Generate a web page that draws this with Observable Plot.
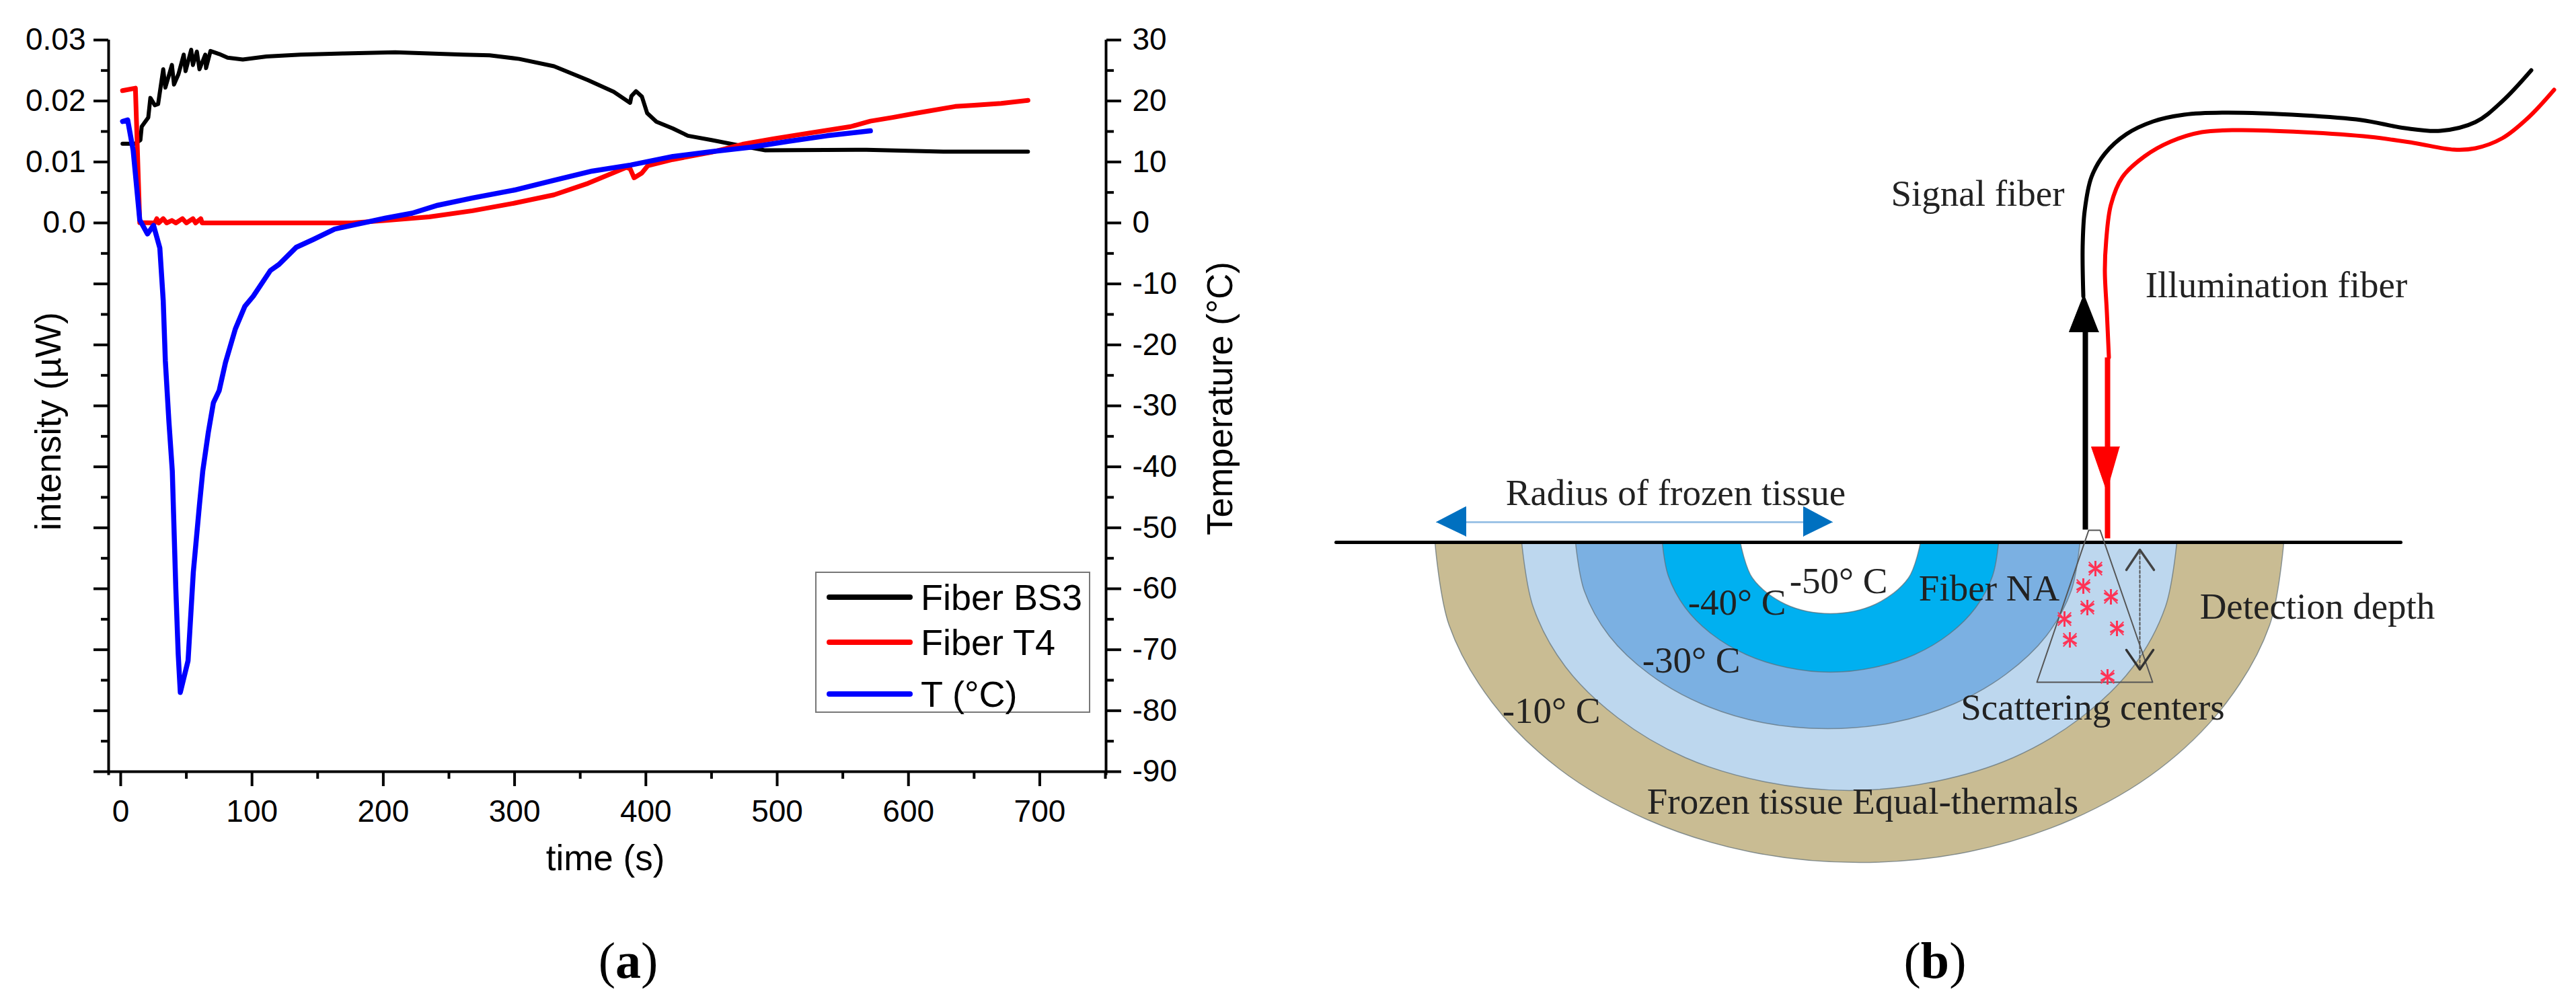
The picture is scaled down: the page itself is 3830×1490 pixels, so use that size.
<!DOCTYPE html>
<html>
<head>
<meta charset="utf-8">
<script src="https://cdn.jsdelivr.net/npm/d3@7"></script>
<script src="https://cdn.jsdelivr.net/npm/@observablehq/plot@0.6"></script>
<style>
    body { margin: 0; background: #fff; width: 3830px; height: 1490px; overflow: hidden; }
    #row { display: flex; width: 3830px; }
    .panel { position: relative; }
    .panel svg { display: block; max-width: none; background: #fff; }
    .caption { height: 116px; text-align: center; font: 76px/116px "Liberation Serif"; color: #000; }
    .caption b { font-weight: bold; }
    #legend { position: absolute; left: 1212px; top: 850px; width: 405px; height: 206px; border: 2px solid #777; font: 54px "Liberation Sans"; color: #000; }
    #legend .swatch { position: absolute; left: 15px; width: 128px; height: 8px; border-radius: 4px; }
    #legend .name { position: absolute; left: 155px; line-height: 60px; white-space: nowrap; }
</style>
</head>
<body>
<div id="row">
    <div class="panel" id="panel-a"><div class="chart"></div><div class="caption" style="padding-right:32px">(<b>a</b>)</div></div>
    <div class="panel" id="panel-b"><div class="chart"></div><div class="caption" style="padding-left:24px">(<b>b</b>)</div></div>
</div>
<script>
// Panel (a): time in seconds, value pairs
const fiberBS3 = [[1.4,13],[11,13],[15,13.6],[16,15.8],[21,17.3],[22.6,20.5],[26,19.3],[28.5,19.5],[32.4,25.2],[34,22.2],[39,25.9],[40.6,22.7],[44,24.4],[48,27.6],[49.4,24.9],[53.7,28.4],[55,25.9],[58,28.1],[60,25.2],[64.4,27.6],[65,25.4],[68.4,28.2],[75,27.7],[81.4,27.1],[93,26.8],[111,27.3],[137,27.6],[170,27.8],[209,28],[235,27.8],[261,27.6],[281,27.5],[303.5,26.9],[330,25.7],[356,23.4],[375.5,21.5],[388,19.7],[389,20.8],[392.5,21.6],[397,20.7],[401,18],[408,16.6],[420.5,15.5],[432,14.3],[450,13.6],[473.6,12.6],[491,11.9],[568,12],[626.5,11.7],[691,11.7]];
const fiberT4 = [[1.4,21.7],[11.2,22.1],[12,16.8],[14.5,0.05],[26,0],[27.5,0.7],[29,0],[32.4,0.7],[35,0],[39,0.4],[42,0],[47,0.7],[50,0],[55,0.7],[57,0],[61,0.7],[62,0],[100,0],[176,0],[202,0.4],[235,1],[268,2],[300,3.25],[330,4.6],[356,6.5],[385,9.1],[388,8.9],[391,7.4],[397,8.2],[401.5,9.4],[420.5,10.4],[450,11.6],[473.6,12.9],[497,13.8],[523.4,14.7],[556,15.8],[571,16.7],[588,17.3],[606,18],[635.5,19.1],[650,19.3],[670.6,19.6],[691,20.1]];
const temperature = [[1.4,16.65],[5.3,16.9],[9.5,11.9],[14.5,0.5],[20.4,-1.8],[25,-0.4],[29.8,-4.1],[32.4,-12.8],[34,-22.6],[36.7,-32.5],[39.3,-40.7],[40.6,-50.1],[42,-60.1],[43.8,-70.7],[45.4,-77],[51.3,-71.8],[55.3,-57.3],[60,-46.2],[62.5,-40.7],[66.7,-34.4],[70.6,-29.5],[75,-27.5],[79.8,-22.9],[87.3,-17.4],[94.5,-13.7],[101,-12],[114,-7.8],[120.6,-6.8],[133.7,-4],[146.8,-2.7],[163,-1],[176,-0.4],[202,0.8],[222,1.6],[241.5,2.9],[268,4.1],[300,5.4],[330,7],[359,8.5],[388.5,9.5],[420.5,10.9],[450,11.7],[479.5,12.4],[509,13.4],[538,14.3],[571,15.1]];

const legendLabels = ["Fiber BS3", "Fiber T4", "T (°C)"];
const legendColors = ["#000000", "#ff0000", "#0000ff"];
const legendTops = [36, 103, 180];

const timeTicks = [0, 100, 200, 300, 400, 500, 600, 700];
const timeMinorTicks = [50, 150, 250, 350, 450, 550, 650, 750];
const tempTicks = [30, 20, 10, 0, -10, -20, -30, -40, -50, -60, -70, -80, -90];
const tempMinorTicks = [25, 15, 5, -5, -15, -25, -35, -45, -55, -65, -75, -85];
const intensityTicks = [0.03, 0.02, 0.01, 0.0];
const intensityLabels = ["0.03", "0.02", "0.01", "0.0"];

// The left axis shares the temperature scale: 0.03 uW sits level with 30 C
const intensityToTemp = 1000;
const xDomain = [-9.2, 750.5];
const yDomain = [-90, 30];

// Panel (b): schematic outlines in picture pixels
const ringTan = [[2133,806],[2154,929],[2218,1044],[2318,1143],[2448,1218],[2601,1266],[2764,1282],[2927,1266],[3080,1218],[3210,1143],[3310,1044],[3374,929],[3395,806]];
const ringLight = [[2262,806],[2279,902],[2327,991],[2405,1067],[2505,1126],[2623,1162],[2749,1175],[2875,1162],[2993,1126],[3093,1067],[3171,991],[3219,902],[3236,806]];
const ringMid = [[2342,806],[2355,878],[2392,945],[2452,1002],[2529,1046],[2620,1074],[2717,1083],[2814,1074],[2905,1046],[2982,1002],[3042,945],[3079,878],[3092,806]];
const ringCyan = [[2471,806],[2480,856],[2505,903],[2544,942],[2596,973],[2656,992],[2721,999],[2786,992],[2846,973],[2898,942],[2937,903],[2962,856],[2971,806]];
const ringWhite = [[2587,806],[2605,859],[2654,898],[2721,912],[2788,898],[2837,859],[2855,806]];
const surfaceLine = [[1986,806],[3569,806]];

const radiusLine = [[2179,776],[2681,776]];
const radiusArrowLeft = [[2135,776],[2179,753],[2179,797]];
const radiusArrowRight = [[2724,776],[2681,753],[2681,797]];

const signalFiber = [[3763,104],[3720,150],[3680,181],[3628,194],[3575,190],[3510,178],[3424,171],[3306,167],[3247,170],[3201,180],[3161,199],[3129,228],[3109,263],[3099,313],[3096,366],[3097,440]];
const signalStem = [[3100,493],[3100,787]];
const signalHead = [[3098,437],[3076,493],[3120,493]];
const illumFiber = [[3797,133],[3759,174],[3720,205],[3680,220],[3648,222],[3588,212],[3523,203],[3424,196],[3326,193],[3273,196],[3227,210],[3188,232],[3155,263],[3138,304],[3131,357],[3129,402],[3132,464],[3135,531]];
const illumStem = [[3133,531],[3133,800]];
const illumHead = [[3132,730],[3109,664],[3151,664]];

const fiberNA = [[3105,788],[3122,788],[3200,1014],[3028,1014],[3105,788]];
const depthLine = [[3181,820],[3181,992]];
const depthHeadTop = [[3161,847],[3181,817],[3202,847]];
const depthHeadBottom = [[3161,966],[3181,995],[3201,966]];
const scatterCenters = [[3115,845],[3097,871],[3138,887],[3103,903],[3069,920],[3147,934],[3077,951],[3133,1006]];

const diagramLabels = ["Radius of frozen tissue", "-50° C", "-40° C", "-30° C", "-10° C", "Frozen tissue Equal-thermals", "Fiber NA", "Detection depth", "Scattering centers", "Signal fiber", "Illumination fiber"];
const diagramLabelX = [2491, 2733, 2582, 2514, 2306, 2769, 2957, 3445, 3111, 2940, 3384];
const diagramLabelY = [733, 864, 896, 982, 1057, 1192, 875, 902, 1052, 288, 424];

const rows = pts => pts.map(p => ({x: p[0], y: p[1]}));

function drawTimeChart() {
    const axisStyle = {stroke: "#000", strokeWidth: 4, fontSize: 46, tickSize: 22};
    const minorStyle = {stroke: "#000", strokeWidth: 4, tickSize: 11, tickFormat: () => ""};
    const curve = (data, color, width) => Plot.line(data, {
        x: d => d[0],
        y: d => d[1],
        stroke: color,
        strokeWidth: width,
        strokeLinejoin: "round",
        strokeLinecap: "round",
    });

    return Plot.plot({
        width: 1900,
        height: 1370,
        marginLeft: 161,
        marginRight: 256,
        marginTop: 59,
        marginBottom: 223,
        style: {fontFamily: "Liberation Sans", color: "#000", background: "#fff"},
        x: {domain: xDomain},
        y: {domain: yDomain},
        marks: [
            // Left axis: only the top of the range is labelled in intensity
            Plot.axisY(tempTicks, {...axisStyle, anchor: "left", label: null, tickPadding: 12, tickFormat: d => {
                const i = intensityTicks.findIndex(v => v * intensityToTemp === d);
                return i < 0 ? "" : intensityLabels[i];
            }}),
            Plot.axisY(tempMinorTicks, {...minorStyle, anchor: "left", label: null}),
            // Right axis
            Plot.axisY(tempTicks, {...axisStyle, anchor: "right", label: null, tickPadding: 17, tickFormat: d => String(d)}),
            Plot.axisY(tempMinorTicks, {...minorStyle, anchor: "right", label: null}),
            // Bottom axis
            Plot.axisX(timeTicks, {...axisStyle, anchor: "bottom", label: null, tickPadding: 20, tickFormat: d => String(d)}),
            Plot.axisX(timeMinorTicks, {...minorStyle, anchor: "bottom", label: null}),
            Plot.ruleX([xDomain[0], xDomain[1]], {y1: yDomain[1], y2: yDomain[0] - 0.6, stroke: "#000", strokeWidth: 4}),
            Plot.ruleY([yDomain[0]], {stroke: "#000", strokeWidth: 4}),
            // Axis titles
            Plot.text(["intensity (µW)"], {frameAnchor: "left", textAnchor: "middle", rotate: -90, dx: -88, dy: 23, fontSize: 53}),
            Plot.text(["Temperature (°C)"], {frameAnchor: "right", textAnchor: "middle", rotate: -90, dx: 171, dy: -11, fontSize: 53}),
            Plot.text(["time (s)"], {frameAnchor: "bottom", lineAnchor: "middle", dx: -3, dy: 130, fontSize: 53}),
            // Series
            curve(fiberBS3, legendColors[0], 6),
            curve(fiberT4, legendColors[1], 7),
            curve(temperature, legendColors[2], 7.5),
        ],
    });
}

function drawDiagram() {
    const ring = (pts, color) => Plot.line(rows(pts), {
        x: "x", y: "y", fill: color, stroke: "#5f6f78", strokeWidth: 1.5, strokeOpacity: 0.7, curve: "catmull-rom",
    });
    const stroke = (pts, color, width, extra = {}) => Plot.line(rows(pts), {
        x: "x", y: "y", stroke: color, strokeWidth: width, strokeLinecap: "round", ...extra,
    });
    const head = (pts, color) => Plot.line(rows(pts), {x: "x", y: "y", fill: color, stroke: color, strokeWidth: 1});

    return Plot.plot({
        width: 1930,
        height: 1370,
        margin: 0,
        style: {background: "#fff"},
        x: {axis: null, domain: [1900, 3830], range: [0, 1930]},
        y: {axis: null, domain: [1370, 0], range: [1370, 0]},
        marks: [
            ring(ringTan, "#c9bc93"),
            ring(ringLight, "#bdd7ee"),
            ring(ringMid, "#7bb0e2"),
            ring(ringCyan, "#00b0f0"),
            ring(ringWhite, "#ffffff"),
            stroke(surfaceLine, "#000", 5),
            stroke(radiusLine, "#9dc3e6", 3),
            head(radiusArrowLeft, "#0070c0"),
            head(radiusArrowRight, "#0070c0"),
            stroke(fiberNA, "#555", 2),
            stroke(depthLine, "#555", 2, {strokeDasharray: "4,3"}),
            stroke(depthHeadTop, "#444", 3.5),
            stroke(depthHeadBottom, "#333", 3.5),
            Plot.dot(rows(scatterCenters), {x: "x", y: "y", symbol: "asterisk", r: 11, stroke: "#ff3355", strokeWidth: 3}),
            Plot.dot(rows(scatterCenters), {x: "x", y: "y", symbol: "times", r: 9, stroke: "#ff3355", strokeWidth: 2}),
            stroke(signalFiber, "#000", 6, {curve: "catmull-rom"}),
            stroke(signalStem, "#000", 8, {strokeLinecap: "butt"}),
            head(signalHead, "#000"),
            stroke(illumFiber, "#ff0000", 6, {curve: "catmull-rom"}),
            stroke(illumStem, "#ff0000", 8, {strokeLinecap: "butt"}),
            head(illumHead, "#ff0000"),
            Plot.text(diagramLabels, {
                x: (d, i) => diagramLabelX[i],
                y: (d, i) => diagramLabelY[i],
                fontFamily: "Liberation Serif",
                fontSize: 55,
                fill: "#222",
            }),
        ],
    });
}

function drawLegend() {
    const legend = document.createElement("div");
    legend.id = "legend";
    legendLabels.forEach((label, i) => {
        const swatch = document.createElement("div");
        swatch.className = "swatch";
        swatch.style.top = (legendTops[i] - 4) + "px";
        swatch.style.background = legendColors[i];
        legend.appendChild(swatch);
        const name = document.createElement("div");
        name.className = "name";
        name.style.top = (legendTops[i] - 30) + "px";
        name.textContent = label;
        legend.appendChild(name);
    });
    document.getElementById("panel-a").appendChild(legend);
}

document.querySelector("#panel-a .chart").appendChild(drawTimeChart());
document.querySelector("#panel-b .chart").appendChild(drawDiagram());
drawLegend();
</script>
</body>
</html>
